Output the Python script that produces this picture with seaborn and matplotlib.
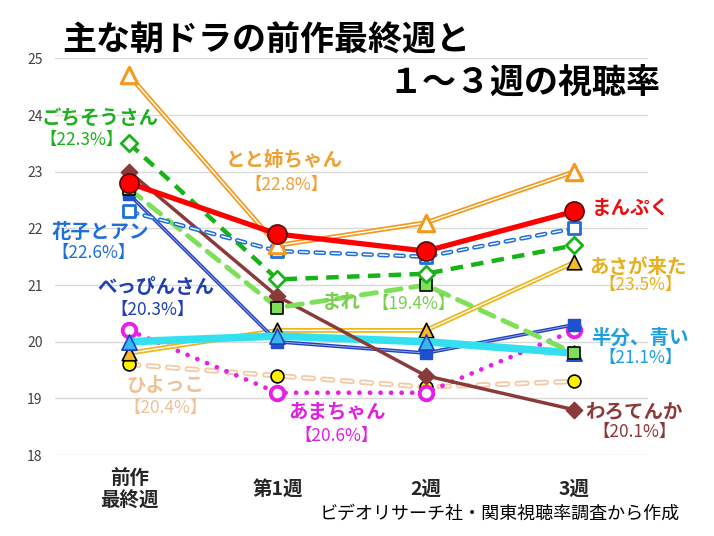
import numpy as np
import pandas as pd
import matplotlib
matplotlib.use('Agg')
import matplotlib.pyplot as plt
import seaborn as sns

# categories (x axis)
weeks = ['前作\n最終週', '第1週', '2週', '3週']

# ratings per drama (%)
hiyokko = [19.6, 19.4, 19.2, 19.3]
amachan = [20.2, 19.1, 19.1, 20.2]
asagakita = [19.8, 20.2, 20.2, 21.4]
hanbun_aoi = [20.0, 20.1, 20.0, 19.8]
beppinsan = [22.6, 20.0, 19.8, 20.3]
warotenka = [23.0, 20.8, 19.4, 18.8]
mare = [22.7, 20.6, 21.0, 19.8]
gochisousan = [23.5, 21.1, 21.2, 21.7]
hanako_to_anne = [22.3, 21.6, 21.5, 22.0]
toto_neechan = [24.7, 21.7, 22.1, 23.0]
manpuku = [22.8, 21.9, 21.6, 22.3]

# annotation texts
names = ['ごちそうさん', 'とと姉ちゃん', '花子とアン', 'べっぴんさん', 'まれ', 'ひよっこ',
         'あまちゃん', 'まんぷく', 'あさが来た', '半分、青い', 'わろてんか']
pcts = ['【22.3%】', '【22.8%】', '【22.6%】', '【20.3%】', '【19.4%】', '【20.4%】',
        '【20.6%】', '', '【23.5%】', '【21.1%】', '【20.1%】']

sns.set_theme(style='white')
plt.rcParams['font.family'] = ['Noto Sans CJK JP', 'DejaVu Sans']
plt.rcParams['lines.scale_dashes'] = False

fig = plt.figure(figsize=(7.14, 5.36), dpi=100)
ax = fig.add_axes([0.077, 0.151, 0.831, 0.740])


def draw(vals, color, lw, ls='-', cap='butt', inner=None, marker='o', s=90,
         fc='white', ec=None, mew=1.5, z=2):
    df = pd.DataFrame({'week': weeks, 'rating': vals})
    sns.lineplot(data=df, x='week', y='rating', ax=ax, color=color, lw=lw,
                 linestyle=ls, dash_capstyle=cap, solid_capstyle=cap,
                 sort=False, zorder=z)
    if inner is not None:
        sns.lineplot(data=df, x='week', y='rating', ax=ax, color=inner[0],
                     lw=inner[1], linestyle=ls, dash_capstyle=cap,
                     solid_capstyle=cap, sort=False, zorder=z + 0.1)
    sns.scatterplot(data=df, x='week', y='rating', ax=ax, marker=marker, s=s,
                    color=fc, edgecolor=ec if ec else color, linewidth=mew,
                    zorder=z + 0.2)


draw(hiyokko, '#F5CBA7', 4, ls=(0, (7, 7)), cap='round', inner=('white', 1.3),
     marker='o', s=85, fc='#FFEE00', ec='black', mew=1.2, z=2)
draw(amachan, '#E620E6', 3.4, ls=(0, (0.1, 7.5)), cap='round',
     marker='o', s=95, fc='white', ec='#E620E6', mew=2.8, z=3)
draw(asagakita, '#EDB518', 3.5, inner=('white', 1.0),
     marker='^', s=110, fc='#F5B92A', ec='black', mew=1.2, z=4)
draw(beppinsan, '#1F3FBF', 2.6, inner=('#8FA8E8', 0.7),
     marker='s', s=80, fc='#1F50D0', ec='#1F50D0', mew=1, z=5)
draw(hanbun_aoi, '#33E0F0', 5.5,
     marker='^', s=120, fc='#38B6F0', ec='#1F3FBF', mew=1.2, z=6)
draw(warotenka, '#8B3A3A', 2.5,
     marker='D', s=70, fc='#8B3A3A', ec='#8B3A3A', mew=1, z=7)
draw(mare, '#7EE058', 3.5, ls=(0, (11, 7)), cap='round',
     marker='s', s=85, fc='#7EE058', ec='black', mew=1.2, z=8)
draw(gochisousan, '#17B317', 3.2, ls=(0, (9, 6)),
     marker='D', s=70, fc='white', ec='#17B317', mew=2, z=9)
draw(hanako_to_anne, '#1E6FD9', 3.2, ls=(0, (6, 5.5)), cap='round',
     inner=('white', 1.0), marker='s', s=85, fc='white', ec='#1E6FD9', mew=2, z=10)
draw(toto_neechan, '#F39A1E', 3.5, inner=('white', 1.0),
     marker='^', s=140, fc='white', ec='#F39A1E', mew=2.2, z=11)
draw(manpuku, '#FF0000', 3.8, cap='round',
     marker='o', s=190, fc='#FF0000', ec='#5A0A0A', mew=1.2, z=12)

ax.set_xlim(-0.5, 3.5)
ax.set_ylim(18, 25)
ax.set_yticks(range(18, 26))
ax.tick_params(axis='y', labelsize=10, labelcolor='#404040', length=0, pad=9)
ax.set_xticks(ax.get_xticks(), labels=weeks, fontsize=14, fontweight='bold',
              va='center', linespacing=1.25)
ax.tick_params(axis='x', length=0, pad=25)
ax.set_xlabel('')
ax.set_ylabel('')
for sp in ax.spines.values():
    sp.set_visible(False)
ax.yaxis.grid(True, color='#D9D9D9', lw=1)
ax.xaxis.grid(False)
ax.set_axisbelow(True)

# series labels
big = dict(fontsize=14, fontweight='bold', ha='center', va='center', zorder=20)
small = dict(fontsize=12.5, ha='center', va='center', zorder=20)
label_pos = [
    ('#1DB01D', (-0.195, 23.95), (-0.32, 23.56)),
    ('#EFA030', (1.046, 23.2), (1.06, 22.77)),
    ('#1E6FD9', (-0.195, 21.93), (-0.24, 21.57)),
    ('#2040B0', (0.178, 20.95), (0.158, 20.56)),
    ('#78D050', (1.43, 20.69), (1.92, 20.66)),
    ('#EEC295', (0.246, 19.23), (0.246, 18.83)),
    ('#E020E0', (1.40, 18.76), (1.40, 18.34)),
    ('#E81010', (3.385, 22.36), None),
    ('#E8B020', (3.43, 21.32), (3.45, 21.0)),
    ('#1EA0E0', (3.446, 20.07), (3.45, 19.72)),
    ('#8B3A3A', (3.40, 18.76), (3.41, 18.4)),
]
for name, pct, (col, p1, p2) in zip(names, pcts, label_pos):
    ax.text(p1[0], p1[1], name, color=col, **big)
    if p2 is not None:
        ax.text(p2[0], p2[1], pct, color=col, **small)

fig.text(62 / 714, 1 - 40 / 536, '主な朝ドラの前作最終週と', fontsize=24.5,
         fontweight='bold', ha='left', va='center', color='black')
fig.text(660 / 714, 1 - 82 / 536, '１～３週の視聴率', fontsize=24.5,
         fontweight='bold', ha='right', va='center', color='black')
fig.text(0.952, 1 - 514 / 536, 'ビデオリサーチ社・関東視聴率調査から作成',
         fontsize=13, ha='right', va='center', color='black')

fig.savefig('out.png', dpi=100)
